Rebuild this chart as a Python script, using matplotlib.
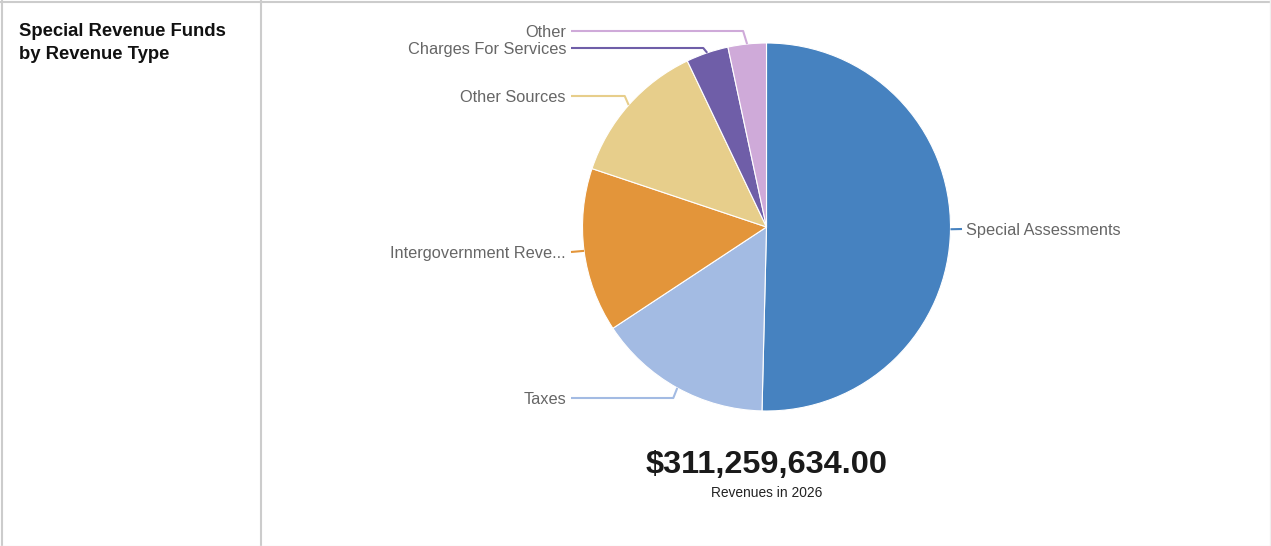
import numpy as np
import matplotlib.pyplot as plt

# Special revenue funds pie, labels with elbow connectors
plt.rcParams['font.family'] = ['Liberation Sans', 'DejaVu Sans']

categories = ['Special Assessments', 'Taxes', 'Intergovernment Reve...',
              'Other Sources', 'Charges For Services', 'Other']
revenues = [156.85, 47.72, 44.88, 39.78, 11.58, 10.46]  # $ millions
colors = ['#4682c0', '#a3bbe3', '#e3953a', '#e7ce8b', '#6f5ea8', '#cfaad9']
total = 311259634.00
year = 2026

W, H = 1271, 546
fig = plt.figure(figsize=(W / 100, H / 100), dpi=100)
ax = fig.add_axes([0, 0, 1, 1])

# pie placement in pixel coords (y measured up)
cx, cy, r = 766.5, H - 227, 184

wedges, _ = ax.pie(revenues, colors=colors, startangle=90, counterclock=False,
                   center=(cx, cy), radius=r, frame=True,
                   wedgeprops=dict(edgecolor='white', linewidth=0.8))
ax.set_xlim(0, W)
ax.set_ylim(0, H)
ax.axis('off')

# label rows (pixels from top) so the thin slices don't collide
label_y = [229, 398, 252, 96, 48, 31]
for w, name, ly, c in zip(wedges, categories, label_y, colors):
    mid = np.deg2rad((w.theta1 + w.theta2) / 2)
    px, py = cx + r * np.cos(mid), cy + r * np.sin(mid)
    ly = H - ly
    if px > cx:
        ax.plot([px, 962], [py, ly], color=c, lw=1.5, solid_capstyle='butt')
        ax.text(966, ly - 1.5, name, ha='left', va='center', fontsize=11.8, color='#666666')
    else:
        if abs(py - ly) < 4:
            xs, ys = [px, 571], [py, ly]
        else:
            xs, ys = [px, px - 4, 571], [py, ly, ly]
        ax.plot(xs, ys, color=c, lw=1.5, solid_capstyle='butt')
        ax.text(566, ly - 1.5, name, ha='right', va='center', fontsize=11.8, color='#666666')

ax.text(19, H - 23, 'Special Revenue Funds\nby Revenue Type', ha='left', va='top',
        fontsize=13.3, fontweight='bold', color='#111111', linespacing=1.45)
ax.text(cx, H - 465, '${:,.2f}'.format(total), ha='center', va='center',
        fontsize=23.4, fontweight='bold', color='#1a1a1a')
ax.text(cx, H - 493, 'Revenues in {}'.format(year), ha='center', va='center',
        fontsize=9.9, color='#222222')

# panel borders
ax.plot([1.5, 1.5], [0, H], color='#cccccc', lw=1.5)
ax.plot([0, W], [H - 1.5, H - 1.5], color='#cccccc', lw=1.5)
ax.plot([261, 261], [0, H], color='#cccccc', lw=1.5)
ax.plot([W - 1, W - 1], [0, H], color='#f0f0f0', lw=1)
ax.plot([0, W], [0.5, 0.5], color='#f0f0f0', lw=1)

fig.savefig('out.png', dpi=100)
